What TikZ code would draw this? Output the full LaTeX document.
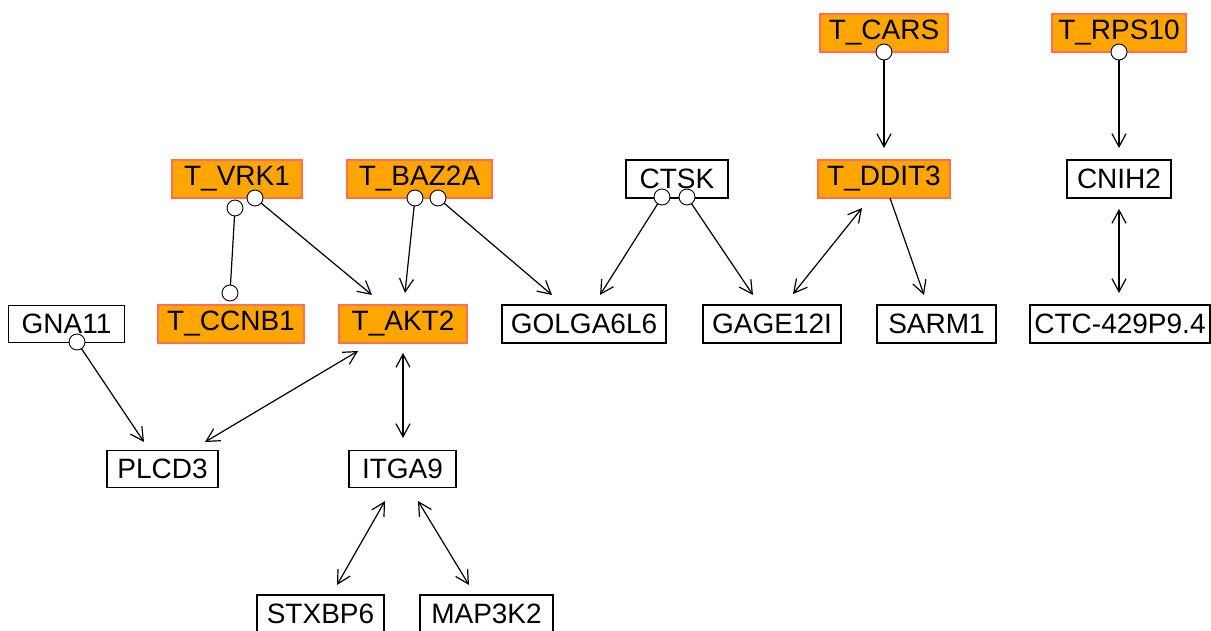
\documentclass[tikz,border=0pt]{standalone}
\usepackage{fontspec}
\setmainfont{Liberation Sans}
\usetikzlibrary{arrows.meta}
\definecolor{hitfill}{HTML}{FFA500}
\definecolor{hitline}{HTML}{FF6F55}
\tikzset{
  gene/.style={draw=black, line width=1.2pt, fill=white, inner sep=0pt,
    minimum height=38pt, font=\fontsize{28}{31}\selectfont},
  hit/.style={gene, draw=hitline, fill=hitfill},
  knob/.style={circle, draw=black, line width=0.9pt, fill=white,
    minimum size=16pt, inner sep=0pt},
  link/.style={draw=black, line width=1.2pt},
  tip/.style={-{Straight Barb[length=13pt,width=14pt,line width=1.2pt]}},
  both/.style={{Straight Barb[length=13pt,width=14pt,line width=1.2pt]}-{Straight Barb[length=13pt,width=14pt,line width=1.2pt]}}
}
\begin{document}
\begin{tikzpicture}[x=1pt,y=-1pt]
\useasboundingbox (0,0) rectangle (1211,631);
\clip (0,0) rectangle (1211,631);

% gene boxes
\node[hit,  minimum width=128pt] (cars)  at (884,33)   {T\_CARS};
\node[hit,  minimum width=134pt] (rps10) at (1119,33)  {T\_RPS10};
\node[hit,  minimum width=130pt] (vrk1)  at (237,179)  {T\_VRK1};
\node[hit,  minimum width=145pt] (baz2a) at (419.5,179){T\_BAZ2A};
\node[gene, minimum width=102pt] (ctsk)  at (677,179)  {CTSK};
\node[hit,  minimum width=132pt] (ddit3) at (884,179)  {T\_DDIT3};
\node[gene, minimum width=104pt] (cnih2) at (1119,179) {CNIH2};
\node[gene, minimum width=116pt, minimum height=37pt] (gna11) at (66.5,324) {GNA11};
\node[hit,  minimum width=146pt] (ccnb1) at (231,324)  {T\_CCNB1};
\node[hit,  minimum width=128pt] (akt2)  at (403,324)  {T\_AKT2};
\node[gene, minimum width=164pt] (golga) at (584,324)  {GOLGA6L6};
\node[gene, minimum width=138pt] (gage)  at (772,324)  {GAGE12I};
\node[gene, minimum width=119pt] (sarm1) at (936.5,324){SARM1};
\node[gene, minimum width=180pt] (ctc)   at (1120,324) {CTC-429P9.4};
\node[gene, minimum width=111pt, minimum height=37pt] (plcd3) at (162.5,469) {PLCD3};
\node[gene, minimum width=107pt, minimum height=37pt] (itga9) at (402.5,469) {ITGA9};
\node[gene, minimum width=127pt] (stxbp6) at (320.5,614) {STXBP6};
\node[gene, minimum width=133pt] (map3k2) at (486.5,614) {MAP3K2};

% circle-ended sources
\coordinate (carsK)  at (884,52);
\coordinate (rps10K) at (1119,52);
\coordinate (vrk1Ka) at (235,208);
\coordinate (vrk1Kb) at (255,198);
\coordinate (ccnb1K) at (230,293);
\coordinate (baz2aKa) at (415,198);
\coordinate (baz2aKb) at (438,198);
\coordinate (ctskKa) at (662,197);
\coordinate (ctskKb) at (687,197);
\coordinate (gna11K) at (77,342);

% arrow end points
\coordinate (ddit3In)  at (884,148);
\coordinate (cnih2In)  at (1119,148);
\coordinate (akt2InA)  at (372,295);
\coordinate (akt2InB)  at (405,293);
\coordinate (golgaInA) at (552,295);
\coordinate (golgaInB) at (600,295);
\coordinate (gageInA)  at (753,295);
\coordinate (gageInB)  at (793,294);
\coordinate (ddit3Lo)  at (862,208);
\coordinate (ddit3Out) at (890,198);
\coordinate (sarm1In)  at (924,295);
\coordinate (cnih2Lo)  at (1119,209);
\coordinate (ctcIn)    at (1119,293);
\coordinate (plcd3InA) at (144,442);
\coordinate (plcd3InB) at (205,442);
\coordinate (akt2LoA)  at (358,351);
\coordinate (akt2LoB)  at (403,353);
\coordinate (itga9In)  at (403,438);
\coordinate (itga9LoA) at (385,501);
\coordinate (itga9LoB) at (418,501);
\coordinate (stxbp6In) at (337,585);
\coordinate (map3k2In) at (469,585);

% connectors
\draw[link,tip]  (carsK) -- (ddit3In);
\draw[link,tip]  (rps10K) -- (cnih2In);
\draw[link]      (vrk1Ka) -- (ccnb1K);
\draw[link,tip]  (vrk1Kb) -- (akt2InA);
\draw[link,tip]  (baz2aKa) -- (akt2InB);
\draw[link,tip]  (baz2aKb) -- (golgaInA);
\draw[link,tip]  (ctskKa) -- (golgaInB);
\draw[link,tip]  (ctskKb) -- (gageInA);
\draw[link,both] (ddit3Lo) -- (gageInB);
\draw[link,tip]  (ddit3Out) -- (sarm1In);
\draw[link,both] (cnih2Lo) -- (ctcIn);
\draw[link,tip]  (gna11K) -- (plcd3InA);
\draw[link,both] (akt2LoA) -- (plcd3InB);
\draw[link,both] (akt2LoB) -- (itga9In);
\draw[link,both] (itga9LoA) -- (stxbp6In);
\draw[link,both] (itga9LoB) -- (map3k2In);

% circle markers on top
\foreach \k in {carsK,rps10K,vrk1Ka,vrk1Kb,ccnb1K,baz2aKa,baz2aKb,ctskKa,ctskKb,gna11K}
  \node[knob] at (\k) {};
\end{tikzpicture}
\end{document}
